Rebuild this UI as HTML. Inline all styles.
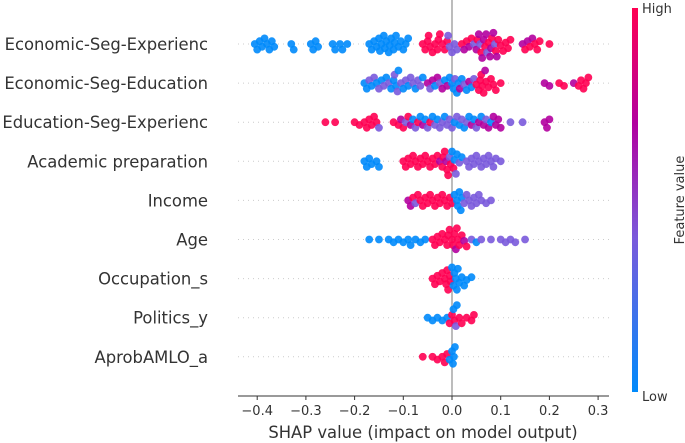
<!DOCTYPE html>
<html><head><meta charset="utf-8"><style>
body{margin:0;background:#fff;}
svg{display:block;font-family:"DejaVu Sans","Liberation Sans",sans-serif;}
</style></head><body>
<svg id="c" width="685" height="443" viewBox="0 0 685 443">
<defs><linearGradient id="cb" x1="0" y1="1" x2="0" y2="0">
<stop offset="0" stop-color="#008afb"/><stop offset="0.4" stop-color="#7a5adb"/><stop offset="0.7" stop-color="#b2009f"/><stop offset="1" stop-color="#ff0052"/></linearGradient></defs>
<g id="grid"></g><g id="dots"></g><g id="labels"></g>
</svg>
<script>
const features=["Economic-Seg-Experienc","Economic-Seg-Education","Education-Seg-Experienc","Academic preparation","Income","Age","Occupation_s","Politics_y","AprobAMLO_a"];
const row0="-0.405b -0.4b -0.395b -0.39b -0.385b -0.38b -0.375b -0.37b -0.365b -0.33b -0.325b -0.29b -0.285b -0.28b -0.275b -0.245b -0.24b -0.23b -0.225b -0.215b -0.17b -0.165b -0.16b -0.155b -0.15b -0.148b -0.145b -0.14b -0.138b -0.135b -0.13b -0.128b -0.125b -0.12b -0.118b -0.115b -0.11b -0.105b -0.1b -0.095b -0.09b -0.06r -0.055r -0.05r -0.048r -0.045r -0.04r -0.035r -0.03r -0.028r -0.025r -0.02r -0.015r -0.01r -0.008v -0.005v 0v 0.005v 0.01v 0.02r 0.025m 0.03r 0.035m 0.04r 0.045v 0.05m 0.052r 0.055m 0.058v 0.06r 0.062m 0.065m 0.068r 0.07m 0.072v 0.075r 0.078m 0.08m 0.082r 0.085m 0.088v 0.09r 0.092m 0.095r 0.1r 0.105r 0.11r 0.115r 0.12r 0.145m 0.15r 0.155m 0.16r 0.165m 0.17r 0.175r 0.18r 0.2r";
const row1="-0.18b -0.175b -0.17v -0.165b -0.16v -0.155b -0.15v -0.145b -0.14v -0.135b -0.13v -0.125b -0.12b -0.118v -0.115b -0.112v -0.11b -0.105v -0.1b -0.095v -0.09b -0.085v -0.08v -0.075b -0.07v -0.065v -0.06b -0.05m -0.045v -0.04m -0.035b -0.03m -0.025v -0.02m -0.015b -0.01m -0.005b 0b 0.003b 0.006v 0.01b 0.013b 0.016m 0.02b 0.025v 0.03b 0.035m 0.04b 0.045v 0.05r 0.055r 0.058r 0.06r 0.062r 0.065r 0.068m 0.07r 0.075r 0.08r 0.085r 0.09r 0.1r 0.19m 0.2m 0.22r 0.23r 0.25m 0.26r 0.265r 0.27r 0.275r 0.28r";
const row2="-0.26r -0.24r -0.2r -0.19r -0.18r -0.175r -0.17r -0.165r -0.16r -0.155r -0.15v -0.12r -0.11r -0.105m -0.1r -0.095v -0.09r -0.085m -0.08b -0.075v -0.07r -0.065b -0.06m -0.055b -0.05v -0.045r -0.04b -0.035v -0.03b -0.025v -0.02v -0.015b -0.01v -0.005v 0v 0.005b 0.01v 0.015b 0.02v 0.025b 0.03v 0.035b 0.04m 0.045b 0.05v 0.055m 0.06b 0.065m 0.07v 0.075m 0.08b 0.085m 0.09m 0.095m 0.1m 0.12v 0.145v 0.19m 0.195m 0.2m";
const row3="-0.18b -0.175b -0.17b -0.165b -0.155b -0.15b -0.1r -0.095r -0.09r -0.085r -0.08r -0.075r -0.07r -0.065r -0.06r -0.055r -0.05r -0.045r -0.04r -0.035r -0.03r -0.025m -0.02r -0.018r -0.015r -0.012m -0.01r -0.008r -0.005v -0.003r 0b 0.003r 0.005b 0.008v 0.01b 0.015v 0.02b 0.03v 0.035v 0.04v 0.045v 0.05v 0.055v 0.06v 0.065v 0.07v 0.075v 0.08v 0.085v 0.09v 0.1v";
const row4="-0.09m -0.085m -0.08r -0.075v -0.07r -0.065r -0.06r -0.055r -0.05r -0.045r -0.04r -0.035r -0.03r -0.025r -0.02r -0.015r -0.01r -0.005r 0r 0.005b 0.01b 0.012b 0.015b 0.018b 0.02b 0.025v 0.03v 0.035v 0.04v 0.045v 0.05v 0.055v 0.06v 0.07v 0.08v";
const row5="-0.17b -0.15b -0.13b -0.12b -0.11b -0.1b -0.09b -0.085b -0.075b -0.065b -0.055b -0.04r -0.035r -0.03r -0.025r -0.02r -0.015r -0.01r -0.008r -0.005r 0r 0.002r 0.005r 0.008m 0.01r 0.012r 0.015r 0.02r 0.025m 0.03r 0.04v 0.05b 0.06v 0.08v 0.1v 0.11v 0.12v 0.13v 0.15v";
const row6="-0.04r -0.035r -0.03r -0.025r -0.02r -0.015r -0.012r -0.01r -0.008r -0.005r -0.003r 0b 0.003b 0.005b 0.008b 0.01b 0.012b 0.015b 0.02b 0.025b 0.03b 0.04b";
const row7="-0.05b -0.04b -0.03b -0.02b -0.01b -0.005r 0r 0.003b 0.005r 0.008v 0.01b 0.015r 0.02r 0.03r 0.04r 0.045r";
const row8="-0.06r -0.04r -0.03r -0.02r -0.015r -0.01r -0.005b 0b 0.002b 0.004b 0.006b";
const rows=[row0,row1,row2,row3,row4,row5,row6,row7,row8];
const xTicks=[-0.4,-0.3,-0.2,-0.1,0.0,0.1,0.2,0.3];
const colorMap={b:"#008afb",v:"#7a5adb",m:"#b2009f",r:"#ff0052"};

const NS="http://www.w3.org/2000/svg";
const svg=document.getElementById('c');
const X0=452, PX=487;
const xs=v=>X0+v*PX;
const ys=i=>44+i*39.1;
function mk(t,a,p){const e=document.createElementNS(NS,t);for(const k in a)e.setAttribute(k,a[k]);(p||svg).appendChild(e);return e;}
const grid=document.getElementById('grid'),dots=document.getElementById('dots'),lab=document.getElementById('labels');
features.forEach((f,i)=>{
  const l=mk('line',{x1:238,x2:609,y1:ys(i),y2:ys(i),stroke:'#ccc','stroke-width':1,'stroke-dasharray':'1,4'},grid);
  
  
  const t=mk('text',{x:208,y:ys(i)+6,'text-anchor':'end','font-size':16.4,fill:'#333'},lab);
  t.textContent=f;
  
  
});
const zl=mk('line',{x1:X0,x2:X0,y1:0,y2:396,stroke:'#999','stroke-width':1.3},grid);


const R=3.9;
rows.forEach((s,i)=>{
  const pts=s.split(' ').map(tk=>({v:parseFloat(tk),c:tk.slice(-1)})).sort((a,b)=>a.v-b.v);
  const placed=[];
  pts.forEach(p=>{
    const x=xs(p.v);let off=0;
    for(let k=0;k<40;k++){
      const o=(k%2?1:-1)*Math.ceil(k/2)*1.4;
      if(placed.every(q=>Math.hypot(q.x-x,q.y-o)>=R*1.3)){off=o;break;}
    }
    placed.push({x:x,y:off});
    const d=mk('circle',{cx:x,cy:ys(i)+off,r:R,fill:colorMap[p.c],'fill-opacity':0.9},dots);
    
    
  });
});
const ax=mk('line',{x1:238,x2:609,y1:396,y2:396,stroke:'#333','stroke-width':1});


xTicks.forEach(v=>{
  mk('line',{x1:xs(v),x2:xs(v),y1:396,y2:400,stroke:'#333'});
  const t=mk('text',{x:xs(v),y:415,'text-anchor':'middle','font-size':13,fill:'#333'});
  t.textContent=(v<0?'\u2212':'')+Math.abs(v).toFixed(1);
  
  
});
const xt=mk('text',{x:423,y:438,'text-anchor':'middle','font-size':16.4,fill:'#333'});
xt.textContent='SHAP value (impact on model output)';


const cb=mk('rect',{x:632,y:8,width:6,height:384,fill:'url(#cb)'});


const hi=mk('text',{x:642,y:13,'font-size':13,fill:'#333'});hi.textContent='High';


const lo=mk('text',{x:642,y:401,'font-size':13,fill:'#333'});lo.textContent='Low';


const fv=mk('text',{x:684,y:200,'font-size':13,fill:'#333','text-anchor':'middle',transform:'rotate(-90 684 200)'});fv.textContent='Feature value';


</script>
</body></html>
